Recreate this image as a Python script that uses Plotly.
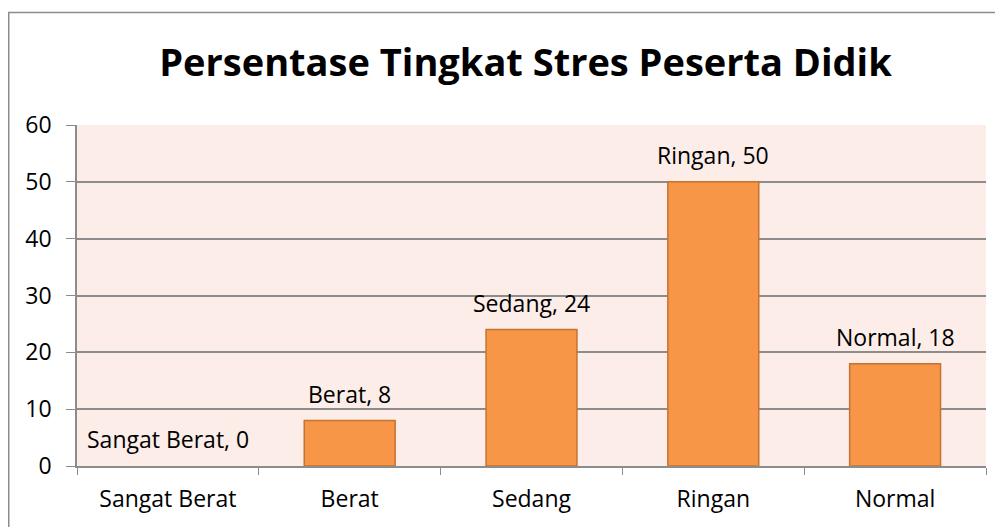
import plotly.graph_objects as go

categories = ["Sangat Berat", "Berat", "Sedang", "Ringan", "Normal"]
values = [0, 8, 24, 50, 18]
y_ticks = [0, 10, 20, 30, 40, 50, 60]

# page has an 8px body margin: work in figure coordinates
OFF = 8
W, H = 1003 - OFF, 527 - OFF
L, R, T, B = 77 - OFF, 986 - OFF, 125 - OFF, 466 - OFF
FONT = "Open Sans, Lato, sans-serif"
FS = 23

fig = go.Figure(go.Bar(
    x=categories, y=values,
    marker=dict(color="#F79646",
                line=dict(color="#C47333", width=[0 if v == 0 else 1.5 for v in values])),
    width=0.5,
))

for c, v in zip(categories, values):
    fig.add_annotation(x=c, y=v, text=f"{c}, {v}", showarrow=False,
                       xanchor="center", yanchor="middle", yshift=27,
                       font=dict(family=FONT, size=FS, color="#000000"))

pw, ph = R - L, B - T
fig.update_layout(
    width=W, height=H,
    margin=dict(l=L, r=W - R, t=T, b=H - B, pad=0),
    paper_bgcolor="white",
    plot_bgcolor="#FCEDE8",
    showlegend=False,
    title=dict(text="<b>Persentase Tingkat Stres Peserta Didik</b>",
               x=(525.5 - OFF) / W, xref="container",
               y=1 - (63 - OFF) / H, yref="container",
               xanchor="center", yanchor="middle",
               font=dict(family=FONT, size=38, color="#000000")),
    font=dict(family=FONT, size=FS, color="#000000"),
    xaxis=dict(
        type="category", tickson="boundaries", ticks="outside", ticklen=7,
        tickcolor="#8C8C8C", showline=True, linecolor="#8C8C8C", linewidth=1.5,
        showgrid=False, tickfont=dict(size=FS, color="#000000"),
        ticklabelstandoff=12,
    ),
    yaxis=dict(
        range=[0, 60], tickvals=y_ticks, ticks="outside", ticklen=9,
        tickcolor="#8C8C8C", showline=True, linecolor="#8C8C8C", linewidth=1.5,
        showgrid=True, gridcolor="#8C8C8C", gridwidth=1.5, zeroline=False,
        tickfont=dict(size=FS, color="#000000"), ticklabelstandoff=10,
    ),
    bargap=0.5,
)

# outer chart border (right/bottom edges lie outside the window)
fig.add_shape(type="rect", xref="paper", yref="paper",
              x0=(0.75 - L) / pw, x1=(1015 - L) / pw,
              y0=(B - 540) / ph, y1=(B - (12.5 - OFF)) / ph,
              line=dict(color="#8C8C8C", width=1.5), fillcolor="rgba(0,0,0,0)",
              layer="above")

fig.write_html("out.html")
